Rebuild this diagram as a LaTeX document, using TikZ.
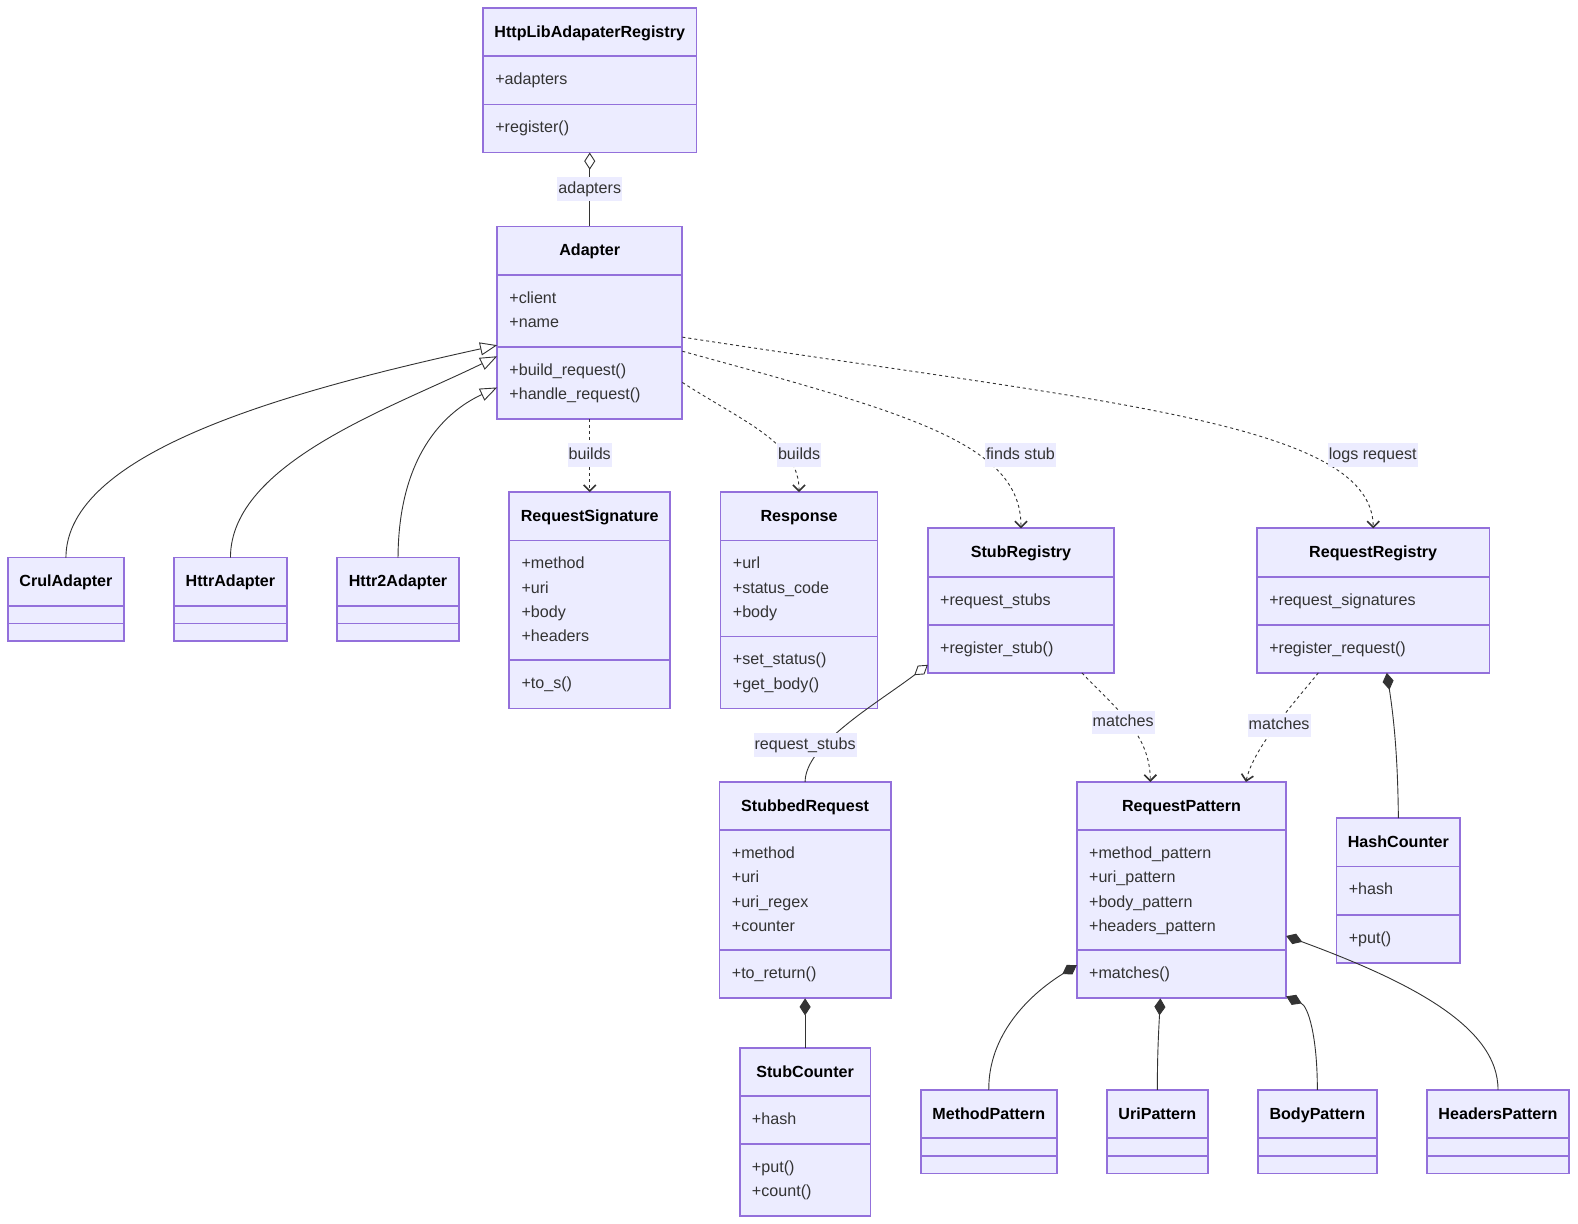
\documentclass[tikz,border=0pt]{standalone}
\usepackage{fontspec}
\setmainfont{Liberation Sans}
\usetikzlibrary{arrows.meta,calc}
\definecolor{umlfill}{HTML}{ECECFF}
\definecolor{umlline}{HTML}{9370DB}
\definecolor{edgegray}{HTML}{333333}
\tikzset{
  classbox/.style={
    rectangle,
    draw=umlline, fill=umlfill,
    line width=1.8pt,
    inner sep=0pt, outer sep=0pt,
  },
  classrule/.style={draw=umlline, line width=1.8pt},
  classtitle/.style={font=\bfseries, text=black, inner sep=0pt, text height=12pt, text depth=3.5pt},
  member/.style={anchor=west, text=edgegray, inner sep=0pt, text height=12pt, text depth=3.5pt},
  edgelabel/.style={fill=umlfill, text=edgegray, inner xsep=1pt, inner ysep=4pt, text height=12pt, text depth=3.5pt},
  link/.style={draw=edgegray, line width=0.9pt},
  depends/.style={link, dash pattern=on 3pt off 3pt, -{Straight Barb[length=6pt,width=12pt,line width=1.6pt]}},
  inherits/.style={link, -{Triangle[open,length=17pt,width=13pt,fill=white]}},
  aggregates/.style={link, {Diamond[open,length=17pt,width=11pt,fill=white]}-},
  composes/.style={link, {Diamond[length=17pt,width=11pt,fill=edgegray]}-},
}
% name, left, top, width, #attrs, #methods, title, attrs, methods
\newcommand{\umlclass}[9]{%
  \pgfmathsetmacro{\secA}{#5==0 ? 17.5 : 23.8*#5+24}%
  \pgfmathsetmacro{\secM}{#6==0 ? 17.5 : 23.8*#6+24}%
  \pgfmathsetmacro{\secH}{48+\secA+\secM}%
  \node[classbox, minimum width=#4pt, minimum height=\secH pt, anchor=north west] (#1) at (#2,#3) {};
  \draw[classrule] (#2,#3+48) -- ++(#4,0);
  \draw[classrule] (#2,#3+48+\secA) -- ++(#4,0);
  \node[classtitle] (#1-title) at (#2+#4/2,#3+25) {#7};
  \ifnum#5>0
    \foreach \lbl [count=\k from 0] in {#8}
      \node[member] (#1-a\k) at (#2+12,#3+72+24*\k) {\lbl};
  \fi
  \ifnum#6>0
    \foreach \lbl [count=\k from 0] in {#9}
      \node[member] (#1-m\k) at (#2+12,#3+72+\secA+24*\k) {\lbl};
  \fi
}

\begin{document}
\fontsize{16}{19}\selectfont
\begin{tikzpicture}[x=1pt,y=-1pt]
  \useasboundingbox (0,0) rectangle (1568,1216);

  % classes
  \umlclass{registry}{480}{8}{212}{1}{1}{HttpLibAdapaterRegistry}{+adapters}{+register()}
  \umlclass{adapter}{494}{225}{184}{2}{2}{Adapter}{+client,+name}{+build\_request(),+handle\_request()}
  \umlclass{crul}{8}{554}{115}{0}{0}{CrulAdapter}{}{}
  \umlclass{httr}{173}{554}{112}{0}{0}{HttrAdapter}{}{}
  \umlclass{httr2}{335}{554}{121}{0}{0}{Httr2Adapter}{}{}
  \umlclass{reqsig}{506}{489}{160}{4}{1}{RequestSignature}{+method,+uri,+body,+headers}{+to\_s()}
  \umlclass{response}{716}{489}{156}{3}{2}{Response}{+url,+status\_code,+body}{+set\_status(),+get\_body()}
  \umlclass{stubreg}{922}{525}{185}{1}{1}{StubRegistry}{+request\_stubs}{+register\_stub()}
  \umlclass{reqreg}{1249}{525}{231}{1}{1}{RequestRegistry}{+request\_signatures}{+register\_request()}
  \umlclass{stubbed}{715}{777}{170}{4}{1}{StubbedRequest}{+method,+uri,+uri\_regex,+counter}{+to\_return()}
  \umlclass{reqpat}{1070}{777}{208}{4}{1}{RequestPattern}{+method\_pattern,+uri\_pattern,+body\_pattern,+headers\_pattern}{+matches()}
  \umlclass{hashcnt}{1328}{813}{123}{1}{1}{HashCounter}{+hash}{+put()}
  \umlclass{stubcnt}{735}{1041}{130}{1}{2}{StubCounter}{+hash}{+put(),+count()}
  \umlclass{methpat}{915}{1083}{135}{0}{0}{MethodPattern}{}{}
  \umlclass{uripat}{1100}{1083}{100}{0}{0}{UriPattern}{}{}
  \umlclass{bodypat}{1250}{1083}{118}{0}{0}{BodyPattern}{}{}
  \umlclass{headpat}{1418}{1083}{141}{0}{0}{HeadersPattern}{}{}

  % aggregation
  \draw[aggregates] (registry.south) -- (adapter.north);
  \draw[aggregates] ($(stubreg.south west)+(0,-8)$) .. controls (870,700) and (800,740) .. (stubbed.north);

  % inheritance
  \draw[inherits] (crul.north) .. controls (66,450) and (280,390) .. ($(adapter.north west)+(0,118)$);
  \draw[inherits] (httr.north) .. controls (229,460) and (390,405) .. ($(adapter.north west)+(0,129)$);
  \draw[inherits] (httr2.north) .. controls (396,455) and (440,410) .. ($(adapter.north west)+(0,160)$);

  % dependencies
  \draw[depends] (adapter.south) -- (reqsig.north);
  \draw[depends] ($(adapter.north east)+(0,155)$) .. controls (740,420) and (794,440) .. (response.north);
  \draw[depends] ($(adapter.north east)+(0,124)$) .. controls (900,410) and (1015,440) .. (stubreg.north);
  \draw[depends] ($(adapter.north east)+(0,110)$) .. controls (1100,400) and (1364,420) .. (reqreg.north);
  \draw[depends] ($(stubreg.south west)+(153,0)$) .. controls (1110,705) and (1143,730) .. ($(reqpat.north west)+(73,0)$);
  \draw[depends] ($(reqreg.south west)+(61,0)$) .. controls (1280,705) and (1245,745) .. ($(reqpat.north west)+(168,0)$);

  % composition
  \draw[composes] ($(reqreg.south west)+(129,0)$) .. controls (1386,720) and (1389,760) .. (hashcnt.north);
  \draw[composes] (stubbed.south) -- (stubcnt.north);
  \draw[composes] ($(reqpat.north west)+(0,182)$) .. controls (1020,990) and (982,1030) .. (methpat.north);
  \draw[composes] ($(reqpat.south west)+(83,0)$) .. controls (1151,1030) and (1150,1050) .. (uripat.north);
  \draw[composes] ($(reqpat.south east)+(0,-2)$) .. controls (1300,1000) and (1309,1030) .. (bodypat.north);
  \draw[composes] ($(reqpat.north east)+(0,153)$) .. controls (1400,975) and (1489,1020) .. (headpat.north);

  % edge labels
  \node[edgelabel] (lbl-adapters) at (586,188) {adapters};
  \node[edgelabel] (lbl-builds1) at (586,452) {builds};
  \node[edgelabel] (lbl-builds2) at (794,452) {builds};
  \node[edgelabel] (lbl-finds) at (1014,452) {finds stub};
  \node[edgelabel] (lbl-logs) at (1364,452) {logs request};
  \node[edgelabel] (lbl-matches1) at (1116,718) {matches};
  \node[edgelabel] (lbl-matches2) at (1271,721) {matches};
  \node[edgelabel] (lbl-stubs) at (800,740) {request\_stubs};
\end{tikzpicture}
\end{document}
